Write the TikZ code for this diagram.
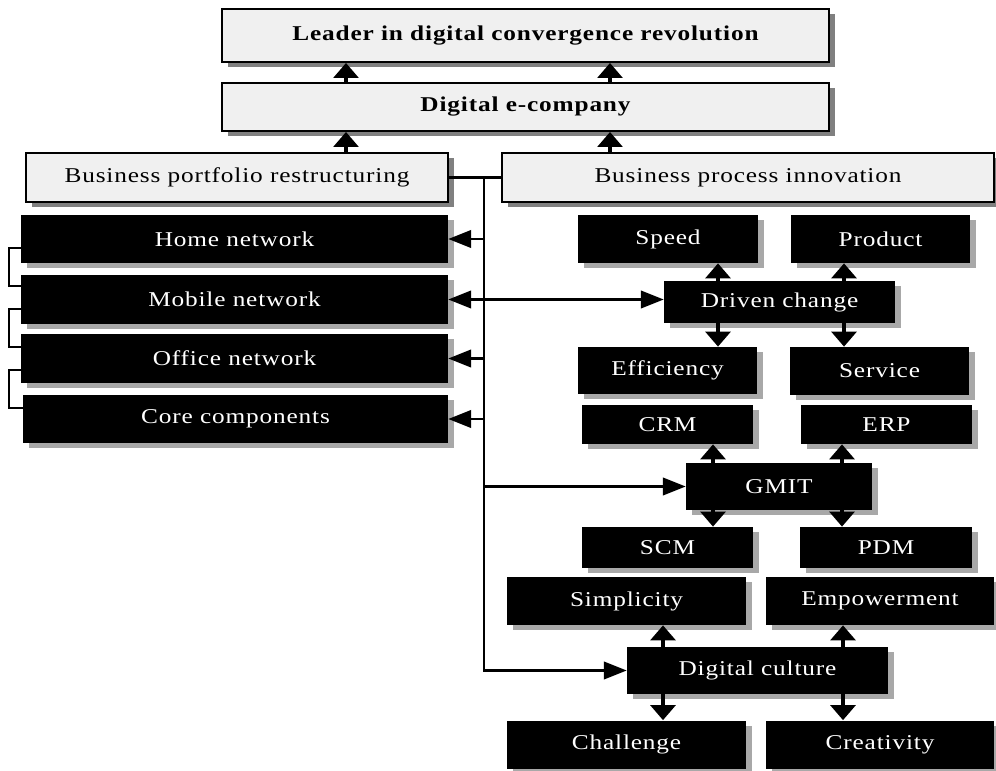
\documentclass[tikz,border=0pt]{standalone}
\usepackage{fontspec}
\setmainfont{Liberation Serif}[FakeStretch=1.2,LetterSpace=4]
\usetikzlibrary{arrows.meta,shadows}
\definecolor{lite}{HTML}{F0F0F0}
\definecolor{liteshade}{HTML}{808080}
\definecolor{darkshade}{HTML}{A8A8A8}
\tikzset{
    litebox/.style={draw=black,line width=1.1pt,fill=lite,inner sep=0pt,
        drop shadow={shadow xshift=0.12cm,shadow yshift=-0.1cm,fill=liteshade,opacity=1}},
    headbox/.style={litebox,font=\fontsize{12}{14}\selectfont\bfseries},
    darkbox/.style={fill=black,text=white,inner sep=0pt,
        drop shadow={shadow xshift=0.12cm,shadow yshift=-0.1cm,fill=darkshade,opacity=1}},
    uparr/.style={line width=2.2pt,-{Triangle[width=14pt,length=8.5pt]}},
    sidearr/.style={line width=1.2pt,-{Triangle[width=10pt,length=13pt]}},
    botharr/.style={line width=1.2pt,{Triangle[width=10pt,length=13pt]}-{Triangle[width=10pt,length=13pt]}},
    trunk/.style={line width=1.2pt},
    brk/.style={line width=0.8pt}
}

\begin{document}
\begin{tikzpicture}[x=0.02cm,y=-0.02cm,every node/.style={font=\fontsize{12}{14}\selectfont}]
    \useasboundingbox (0,0) rectangle (996,770);
    \node[headbox,minimum width=12.14cm,minimum height=1.06cm] (leader) at (525.5,35.5) {Leader in digital convergence revolution};
    \node[headbox,minimum width=12.14cm,minimum height=0.96cm] (ecomp) at (525.5,107) {Digital e-company};
    \node[litebox,minimum width=8.44cm,minimum height=0.98cm] (bpr) at (237,177.5) {Business portfolio restructuring};
    \node[litebox,minimum width=9.84cm,minimum height=0.98cm] (bpi) at (748,177.5) {Business process innovation};
    \node[darkbox,minimum width=8.54cm,minimum height=0.96cm] (home) at (234.5,239) {Home network};
    \node[darkbox,minimum width=8.54cm,minimum height=0.98cm] (mobile) at (234.5,299.5) {Mobile network};
    \node[darkbox,minimum width=8.54cm,minimum height=0.98cm] (office) at (234.5,358.5) {Office network};
    \node[darkbox,minimum width=8.50cm,minimum height=0.96cm] (core) at (235.5,419) {Core components};
    \node[darkbox,minimum width=3.60cm,minimum height=0.96cm] (speed) at (668,239) {Speed};
    \node[darkbox,minimum width=3.58cm,minimum height=0.96cm] (product) at (880.5,239) {Product};
    \node[darkbox,minimum width=4.62cm,minimum height=0.84cm] (driven) at (779.5,302) {Driven change};
    \node[darkbox,minimum width=3.58cm,minimum height=0.94cm] (efficiency) at (667.5,370.5) {Efficiency};
    \node[darkbox,minimum width=3.58cm,minimum height=0.96cm] (service) at (879.5,371) {Service};
    \node[darkbox,minimum width=3.42cm,minimum height=0.78cm] (crm) at (667.5,424.5) {CRM};
    \node[darkbox,minimum width=3.42cm,minimum height=0.78cm] (erp) at (886.5,424.5) {ERP};
    \node[darkbox,minimum width=3.72cm,minimum height=0.94cm] (gmit) at (779,486.5) {GMIT};
    \node[darkbox,minimum width=3.42cm,minimum height=0.82cm] (scm) at (667.5,547.5) {SCM};
    \node[darkbox,minimum width=3.44cm,minimum height=0.82cm] (pdm) at (886,547.5) {PDM};
    \node[darkbox,minimum width=4.78cm,minimum height=0.96cm] (simplicity) at (626.5,601) {Simplicity};
    \node[darkbox,minimum width=4.56cm,minimum height=0.96cm] (empower) at (880,601) {Empowerment};
    \node[darkbox,minimum width=5.22cm,minimum height=0.94cm] (culture) at (757.5,670.5) {Digital culture};
    \node[darkbox,minimum width=4.78cm,minimum height=0.96cm] (challenge) at (626.5,744.5) {Challenge};
    \node[darkbox,minimum width=4.56cm,minimum height=0.96cm] (creativity) at (880,744.5) {Creativity};
    \coordinate (ua) at (346,0);
    \coordinate (ub) at (610,0);
    \coordinate (da) at (718,0);
    \coordinate (db) at (844,0);
    \coordinate (ga) at (713,0);
    \coordinate (gb) at (842,0);
    \coordinate (ca) at (663,0);
    \coordinate (cb) at (843,0);
    \coordinate (tr) at (484,177.5);
    \draw[uparr] (ua |- ecomp.north) -- (ua |- leader.south);
    \draw[uparr] (ub |- ecomp.north) -- (ub |- leader.south);
    \draw[uparr] (ua |- bpr.north) -- (ua |- ecomp.south);
    \draw[uparr] (ub |- bpi.north) -- (ub |- ecomp.south);
    \draw[uparr] (da |- driven.north) -- (da |- speed.south);
    \draw[uparr] (db |- driven.north) -- (db |- product.south);
    \draw[uparr] (da |- driven.south) -- (da |- efficiency.north);
    \draw[uparr] (db |- driven.south) -- (db |- service.north);
    \draw[uparr] (ga |- gmit.north) -- (ga |- crm.south);
    \draw[uparr] (gb |- gmit.north) -- (gb |- erp.south);
    \draw[uparr] (ga |- gmit.south) -- (ga |- scm.north);
    \draw[uparr] (gb |- gmit.south) -- (gb |- pdm.north);
    \draw[uparr] (ca |- culture.north) -- (ca |- simplicity.south);
    \draw[uparr] (cb |- culture.north) -- (cb |- empower.south);
    \draw[uparr] (ca |- culture.south) -- (ca |- challenge.north);
    \draw[uparr] (cb |- culture.south) -- (cb |- creativity.north);
    \draw[trunk] (bpr.east) -- (bpi.west);
    \draw[sidearr] (tr) |- (culture.west);
    \draw[sidearr] (tr |- home.east) -- (home.east);
    \draw[sidearr] (tr |- office.east) -- (office.east);
    \draw[sidearr] (tr |- core.east) -- (core.east);
    \draw[sidearr] (tr |- gmit.west) -- (gmit.west);
    \draw[botharr] (mobile.east) -- (mobile.east -| driven.west);
    \draw[brk] ([yshift=-0.18cm]home.west) -| (9,270) |- ([yshift=0.27cm]mobile.west);
    \draw[brk] ([yshift=-0.19cm]mobile.west) -| (9,330) |- ([yshift=0.23cm]office.west);
    \draw[brk] ([yshift=-0.23cm]office.west) -| (9,390) |- ([yshift=0.22cm]core.west);
\end{tikzpicture}
\end{document}
